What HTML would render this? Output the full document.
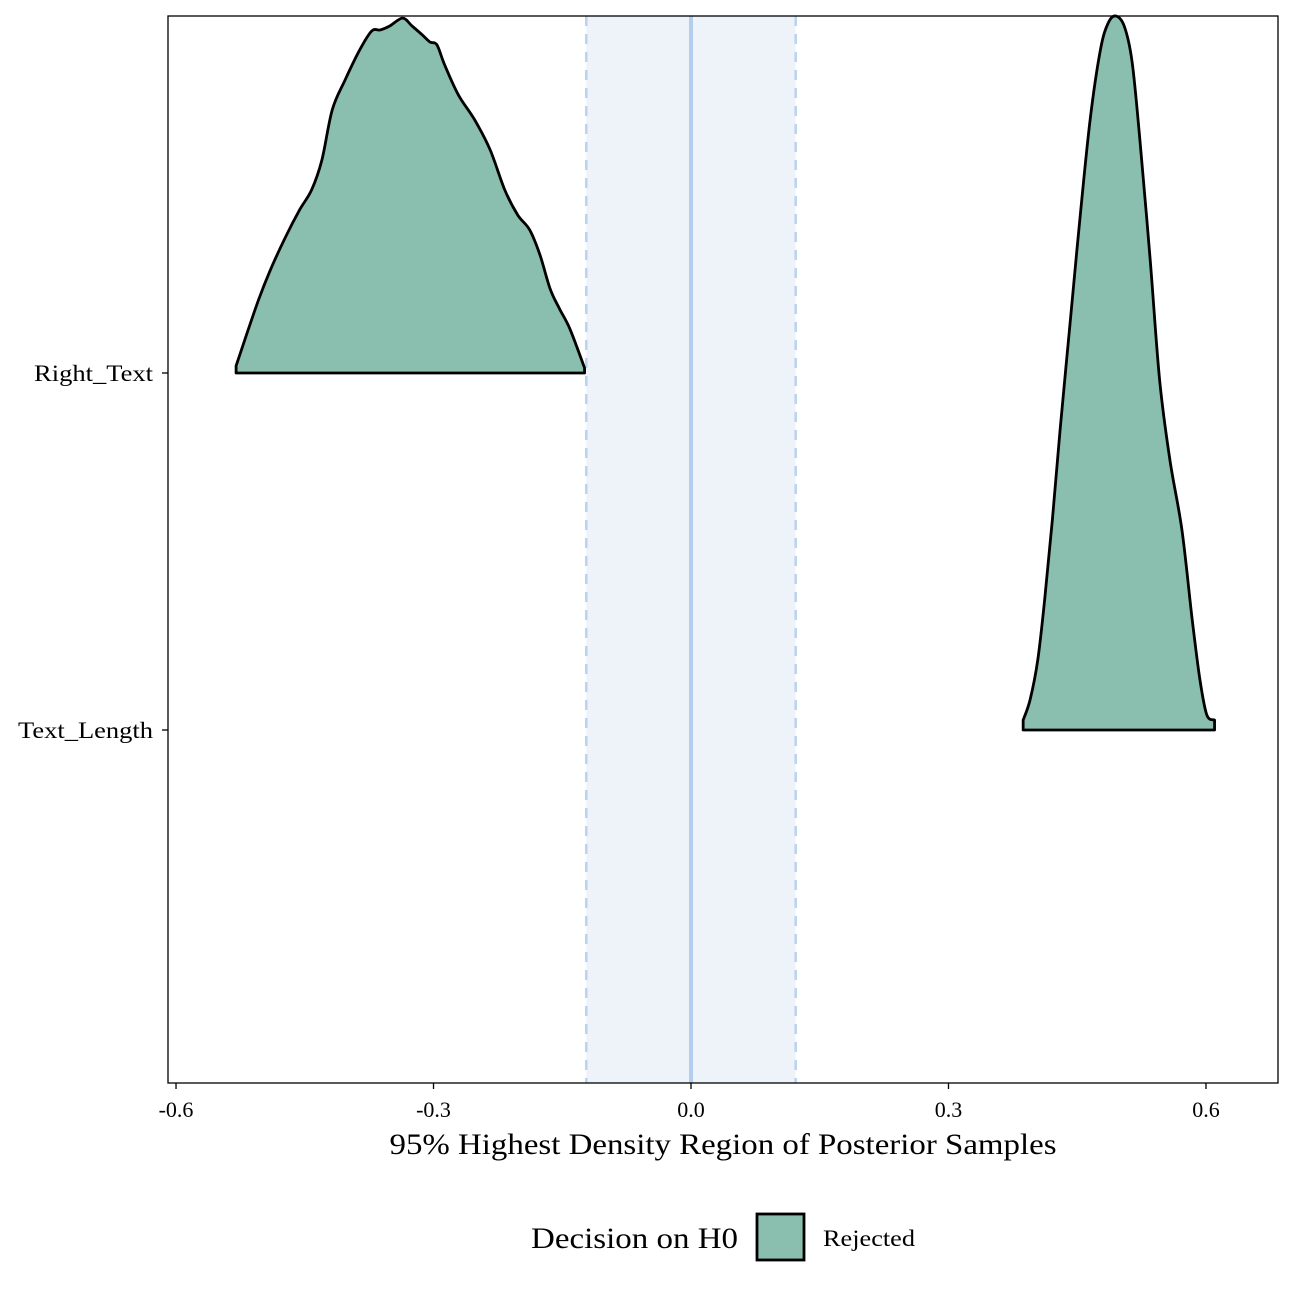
<!DOCTYPE html>
<html><head><meta charset="utf-8">
<style>
html,body{margin:0;padding:0;background:#fff;}
svg{display:block;font-family:"Liberation Serif",serif;}
</style></head>
<body>
<svg id="chart" width="1296" height="1296" viewBox="0 0 1296 1296" xmlns="http://www.w3.org/2000/svg">
<rect x="0" y="0" width="1296" height="1296" fill="#fff"/>
<g id="plot"></g>
</svg>
<script>
const categories = ["Right_Text", "Text_Length"];
const xTicks = [-0.6, -0.3, 0.0, 0.3, 0.6];
const xTickLabels = ["-0.6", "-0.3", "0.0", "0.3", "0.6"];
const rope = [-0.122, 0.122];
const ropeCenter = 0;
const rightTextX = [-0.530,-0.520,-0.504,-0.490,-0.473,-0.456,-0.442,-0.430,-0.418,-0.403,-0.386,-0.372,-0.362,-0.351,-0.336,-0.325,-0.313,-0.304,-0.296,-0.287,-0.271,-0.252,-0.234,-0.217,-0.202,-0.188,-0.176,-0.164,-0.153,-0.141,-0.124];
const rightTextD = [0.020,0.092,0.204,0.289,0.378,0.457,0.513,0.597,0.737,0.821,0.905,0.958,0.961,0.972,0.994,0.972,0.947,0.927,0.919,0.863,0.779,0.709,0.625,0.513,0.443,0.401,0.331,0.235,0.179,0.123,0.014];
const textLengthX = [0.387,0.395,0.404,0.412,0.421,0.430,0.442,0.453,0.465,0.477,0.486,0.495,0.505,0.514,0.523,0.535,0.546,0.558,0.572,0.584,0.593,0.601,0.610];
const textLengthD = [0.028,0.084,0.196,0.364,0.588,0.840,1.148,1.429,1.709,1.905,1.980,2.000,1.970,1.870,1.653,1.317,0.980,0.756,0.560,0.308,0.140,0.042,0.028];

const NS = "http://www.w3.org/2000/svg";
const P = {l:168, r:1278, t:16, b:1083};
const xS = v => 691 + v * 858.3;
const yBase = i => 373 + i * 357;
const dS = d => d * 357;
const g = document.getElementById("plot");
function mk(tag, attrs, parent){ const e=document.createElementNS(NS,tag); for(const k in attrs) e.setAttribute(k,attrs[k]); (parent||g).appendChild(e); return e; }

const band = mk("rect",{x:xS(rope[0]),y:P.t,width:xS(rope[1])-xS(rope[0]),height:P.b-P.t,fill:"#EEF3FA"});


rope.forEach((r,i)=>{
  const l = mk("line",{x1:xS(r),x2:xS(r),y1:P.t,y2:P.b,stroke:"#B9D2EE","stroke-width":2.5,"stroke-dasharray":"10,8"});
  
  
});
const cl = mk("line",{x1:xS(ropeCenter),x2:xS(ropeCenter),y1:P.t,y2:P.b,stroke:"#B3CDEE","stroke-width":4});



function smoothPath(pts){
  let d = "";
  for(let k=0;k<pts.length-1;k++){
    const p0=pts[Math.max(0,k-1)], p1=pts[k], p2=pts[k+1], p3=pts[Math.min(pts.length-1,k+2)];
    const c1=[p1[0]+(p2[0]-p0[0])/6, p1[1]+(p2[1]-p0[1])/6];
    const c2=[p2[0]-(p3[0]-p1[0])/6, p2[1]-(p3[1]-p1[1])/6];
    d += " C"+c1[0]+","+c1[1]+" "+c2[0]+","+c2[1]+" "+p2[0]+","+p2[1];
  }
  return d;
}
const series = [[rightTextX,rightTextD],[textLengthX,textLengthD]];
series.forEach((s,i)=>{
  const xs=s[0], ds=s[1], b=yBase(i);
  const pts = xs.map((x,k)=>[xS(x), b-dS(ds[k])]);
  let d = "M"+pts[0][0]+","+b+" L"+pts[0][0]+","+pts[0][1];
  d += smoothPath(pts);
  d += " L"+pts[pts.length-1][0]+","+b+" Z";
  const p = mk("path",{d:d,fill:"#8ABFB0",stroke:"#000","stroke-width":2.8,"stroke-linejoin":"round"});
  
  
});

const border = mk("rect",{x:P.l,y:P.t,width:P.r-P.l,height:P.b-P.t,fill:"none",stroke:"#000","stroke-width":1.3});



const yLabelW = [119, 135];
categories.forEach((c,i)=>{
  const y=yBase(i);
  mk("line",{x1:P.l-6,x2:P.l,y1:y,y2:y,stroke:"#000","stroke-width":1.3});
  const t = mk("text",{x:P.l-15,y:y+8,"text-anchor":"end","font-size":23,fill:"#000",textLength:yLabelW[i],lengthAdjust:"spacingAndGlyphs"});
  t.textContent=c;
  
  
});
xTicks.forEach((v,i)=>{
  const x=xS(v);
  mk("line",{x1:x,x2:x,y1:P.b,y2:P.b+6,stroke:"#000","stroke-width":1.3});
  const t = mk("text",{x:x,y:P.b+34,"text-anchor":"middle","font-size":22,fill:"#000"});
  t.textContent=xTickLabels[i];
  
  
});
const xt = mk("text",{x:723,y:1154,"text-anchor":"middle","font-size":30,fill:"#000",textLength:667,lengthAdjust:"spacingAndGlyphs"});
xt.textContent="95% Highest Density Region of Posterior Samples";



const lg = mk("g",{});


const lt = mk("text",{x:531,y:1248,"font-size":30,fill:"#000",textLength:207,lengthAdjust:"spacingAndGlyphs"},lg);
lt.textContent="Decision on H0";


const lk = mk("rect",{x:757,y:1214,width:47,height:46,fill:"#8ABFB0",stroke:"#000","stroke-width":2.8},lg);


const ll = mk("text",{x:823,y:1246,"font-size":23,fill:"#000",textLength:92,lengthAdjust:"spacingAndGlyphs"},lg);
ll.textContent="Rejected";


</script>
</body></html>
